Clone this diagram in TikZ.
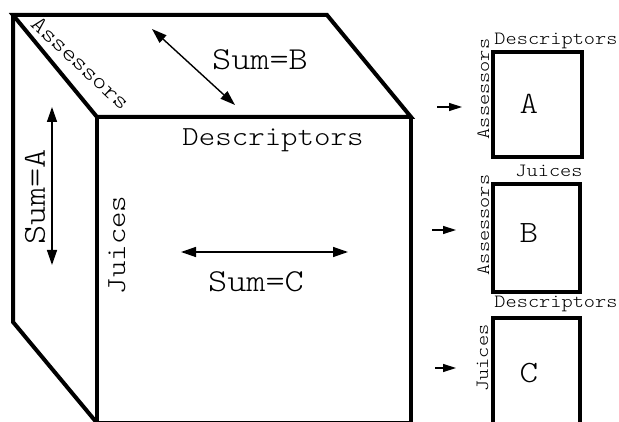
\documentclass[tikz,border=0pt]{standalone}
\usepackage{fontspec}
\setmonofont[FakeStretch=1.14]{Latin Modern Mono Light}
\usetikzlibrary{arrows.meta}

\begin{document}
\begin{tikzpicture}[x=1pt,y=-1pt,
  edge/.style={line width=4pt, line join=miter, line cap=butt},
  sumarrow/.style={line width=1.4pt,
    {Triangle[length=15pt,width=10pt]}-{Triangle[length=15pt,width=10pt]}},
  ptr/.style={line width=1.4pt, -{Triangle[length=13pt,width=8pt]}},
  bigtxt/.style={font=\ttfamily\fontsize{32}{32}\selectfont, inner sep=0pt, anchor=base},
  midtxt/.style={font=\ttfamily\fontsize{27.5}{27.5}\selectfont, inner sep=0pt, anchor=base},
  diagtxt/.style={font=\ttfamily\fontsize{23.3}{23.3}\selectfont, inner sep=0pt, anchor=base},
  smalltxt/.style={font=\ttfamily\fontsize{18.7}{18.7}\selectfont, inner sep=0pt, anchor=base},
  lettertxt/.style={font=\ttfamily\fontsize{31}{31}\selectfont, inner sep=0pt, anchor=base},
  mbox/.style={draw, line width=4.2pt, inner sep=0pt, line join=miter}
]
\useasboundingbox (0,0) rectangle (619,422);

% --- the cube ---
\coordinate (tl) at (13,15);
\coordinate (tr) at (327,15);
\coordinate (fl) at (97,117);
\coordinate (fr) at (411,117);
\coordinate (bl) at (13,322);
\coordinate (fbl) at (97,423);
\coordinate (fbr) at (411,423);

\draw[edge] (tl) -- (tr) -- (fr) -- (fl) -- cycle;
\draw[edge] (fl) -- (fbl) -- (fbr) -- (fr);
\draw[edge] (tl) -- (bl) -- (fbl);

% labels on the cube
\node[diagtxt, rotate=-43] (assdiag) at (75.6,68.7) {Assessors};
\node[bigtxt] (sumB) at (260,70) {Sum=B};
\node[bigtxt, rotate=90] (sumA) at (45,197) {Sum=A};
\node[midtxt, rotate=90] (juicesF) at (125,245) {Juices};
\node[midtxt] (descF) at (273,146) {Descriptors};
\node[bigtxt] (sumC) at (256,292) {Sum=C};

% summation directions
\coordinate (bS) at (152,29);
\coordinate (bE) at (235,105);
\coordinate (aS) at (52,107);
\coordinate (aE) at (52,265);
\coordinate (cS) at (181,252);
\coordinate (cE) at (348,252);
\draw[sumarrow] (bS) -- (bE);
\draw[sumarrow] (aS) -- (aE);
\draw[sumarrow] (cS) -- (cE);

% --- resulting two-way tables ---
\node[mbox, minimum width=89pt, minimum height=105pt] (boxA) at (537.5,104.5) {};
\node[mbox, minimum width=87pt, minimum height=108pt] (boxB) at (536.5,238) {};
\node[mbox, minimum width=87pt, minimum height=130pt] (boxC) at (536.5,383) {};

\node[lettertxt] (lA) at (529,114) {A};
\node[lettertxt] (lB) at (529,243) {B};
\node[lettertxt] (lC) at (529,382) {C};

\node[smalltxt] (dA) at (556,45) {Descriptors};
\node[smalltxt, rotate=90] (sA) at (489,89) {Assessors};
\node[smalltxt] (jB) at (549,177) {Juices};
\node[smalltxt, rotate=90] (sB) at (489,225) {Assessors};
\node[smalltxt] (dC) at (556,308) {Descriptors};
\node[smalltxt, rotate=90] (jC) at (488,358) {Juices};

\coordinate (pA) at (437,107);
\coordinate (qA) at (462,107);
\coordinate (pB) at (432,230);
\coordinate (qB) at (456,230);
\coordinate (pC) at (435,368);
\coordinate (qC) at (456,368);
\draw[ptr] (pA) -- (qA);
\draw[ptr] (pB) -- (qB);
\draw[ptr] (pC) -- (qC);
\end{tikzpicture}
\end{document}
